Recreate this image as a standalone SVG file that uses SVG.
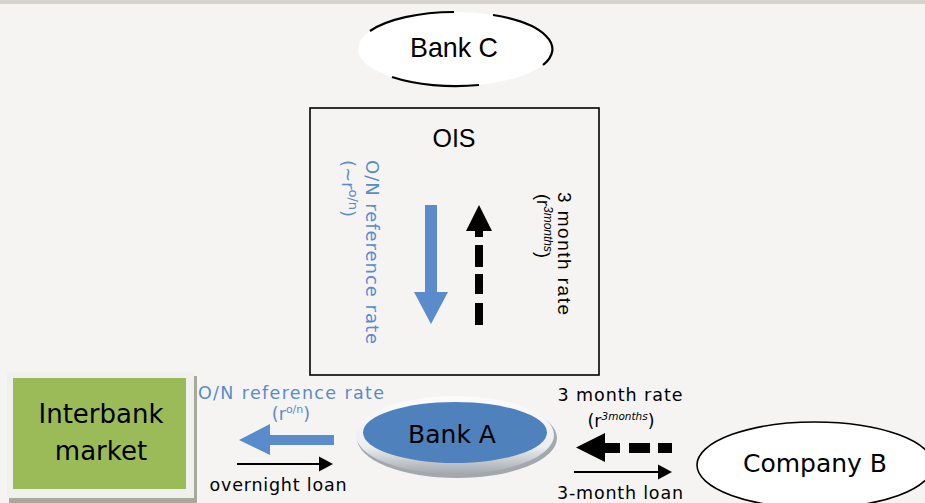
<svg xmlns="http://www.w3.org/2000/svg" width="925" height="503" viewBox="0 0 925 503">
<defs>
<style>
.t{font-family:"DejaVu Sans",Verdana,sans-serif;fill:#000}
.c{font-family:"Liberation Sans",Arial,sans-serif;fill:#000}
.blue{fill:#5a8bca}
.sm{font-size:17.5px}
.mid{text-anchor:middle}
.thin{stroke:#000;stroke-width:2;fill:none}
</style>
<linearGradient id="disc" x1="0" y1="0" x2="0" y2="1">
<stop offset="0" stop-color="#fbfbfb"/>
<stop offset="0.65" stop-color="#eceef0"/>
<stop offset="1" stop-color="#a3a8ae"/>
</linearGradient>
</defs>
<rect x="0" y="0" width="925" height="503" fill="#f5f4f2"/>
<rect x="0" y="0" width="925" height="4" fill="#d7d3ce"/>

<g id="bankC">
<ellipse cx="455" cy="49" rx="97" ry="37" fill="#fff"/>
<path d="M370 31 A97 37 0 0 1 454 12 M493 15 A97 37 0 0 1 543 65 M392 77 A97 37 0 0 0 479 85" fill="none" stroke="#000" stroke-width="2.2"/>
<text class="c mid" x="454" y="57" font-size="28" textLength="88" lengthAdjust="spacingAndGlyphs">Bank C</text>
</g>

<g id="ois">
<rect x="310" y="108" width="289" height="267" fill="none" stroke="#000" stroke-width="1.6"/>
<text class="c mid" x="454" y="147" font-size="25">OIS</text>
<text class="t blue" transform="translate(366,160) rotate(90)" font-size="18" textLength="184">O/N reference rate</text>
<text class="t blue" transform="translate(342,160) rotate(90)" font-size="18">(~r<tspan font-size="13" dy="-7">o/n</tspan><tspan dy="7">)</tspan></text>
<text class="c" transform="translate(558,192) rotate(90)" font-size="19" textLength="123">3 month rate</text>
<text class="c" transform="translate(537,194) rotate(90)" font-size="18">(r<tspan font-size="12" font-style="italic" dy="-7">3months</tspan><tspan dy="7">)</tspan></text>
</g>

<g id="interbank">
<rect x="9" y="376" width="188" height="127" fill="#a8aa98"/>
<rect x="7" y="372" width="187" height="126" fill="#f0f0ef"/>
<rect x="13" y="378" width="173" height="111" fill="#9bbb59"/>
<text class="t mid" x="101" y="423" font-size="26">Interbank</text>
<text class="t mid" x="101" y="460" font-size="26">market</text>
</g>

<g id="bankA">
<ellipse cx="457" cy="438" rx="100" ry="40" fill="#a3a8ae"/>
<ellipse cx="455" cy="435" rx="99" ry="39" fill="url(#disc)"/>
<ellipse cx="455" cy="432.5" rx="92" ry="30.5" fill="#4f81bd"/>
<text class="t mid" x="452" y="443" font-size="25">Bank A</text>
</g>

<g id="companyB">
<ellipse cx="815" cy="465" rx="118" ry="43" fill="#fff" stroke="#000" stroke-width="1.6"/>
<text class="t mid" x="815" y="472" font-size="25">Company B</text>
</g>

<g id="connectors">
<polygon points="425,205 437,205 437,292 448,292 431,324 414,292 425,292" fill="#5a8bca"/>
<polygon points="479,205 492,231 483,231 483,237 475,237 475,231 466,231" fill="#000"/>
<rect x="475" y="245" width="8" height="22" fill="#000"/>
<rect x="475" y="274" width="8" height="20" fill="#000"/>
<rect x="475" y="303" width="8" height="22" fill="#000"/>

<polygon points="239,440 270,424 270,435 334,435 334,445 270,445 270,455" fill="#5a8bca"/>
<line class="thin" x1="237" y1="464" x2="321" y2="464"/>
<polygon points="319,456.5 333,464 319,471.5" fill="#000"/>

<polygon points="576,447.5 605,433 605,443 620,443 620,453 605,453 605,462" fill="#000"/>
<rect x="629" y="443" width="21" height="10" fill="#000"/>
<rect x="658" y="443" width="14" height="10" fill="#000"/>
<line class="thin" x1="574" y1="472" x2="660" y2="472"/>
<polygon points="658,464.5 672,472 658,479.5" fill="#000"/>

<text class="t blue sm" x="198" y="399" textLength="186">O/N reference rate</text>
<text class="t blue sm mid" x="291" y="420">(r<tspan font-size="11" dy="-7">o/n</tspan><tspan dy="7">)</tspan></text>
<text class="t sm mid" x="278" y="491" textLength="137">overnight loan</text>
<text class="t sm mid" x="620" y="401" textLength="125">3 month rate</text>
<text class="t sm mid" x="621" y="427">(r<tspan font-size="10.5" font-style="italic" dy="-7">3months</tspan><tspan dy="7">)</tspan></text>
<text class="t sm mid" x="620" y="499" textLength="126">3-month loan</text>
</g>
</svg>
